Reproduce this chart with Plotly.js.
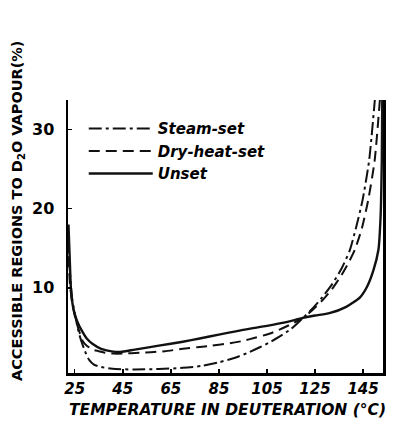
<!DOCTYPE html>
<html><head><meta charset="utf-8">
<script src="https://cdn.plot.ly/plotly-3.0.1.min.js"></script>
<style>html,body{margin:0;padding:0;background:#fff}#chart{width:394px;height:426px}</style>
</head><body><div id="chart"></div>
<script>
// Steam-set (dash-dot)
const steamT = [22.4, 23, 24, 25.5, 27, 29, 31, 33, 36, 42, 50, 60, 70, 78, 85, 92, 97, 102, 106, 110, 115, 120, 124, 128, 132, 136, 139.5, 142, 144.75, 147.5, 149.9];
const steamV = [16, 12, 8.5, 6, 4, 2.2, 0.9, 0.3, 0, -0.25, -0.3, -0.25, -0.1, 0.15, 0.6, 1.2, 1.8, 2.5, 3.1, 3.8, 4.8, 6.2, 7.4, 8.8, 10.4, 12.4, 14.75, 17.5, 21, 26, 33.7];
// Dry-heat-set (dashed)
const dryT = [22.4, 23, 24, 25.4, 27, 28.3, 30, 32.5, 35, 37.5, 41, 45, 52, 58, 62.5, 70, 76, 82, 89.6, 95, 100, 106, 110, 115, 120, 124, 128, 132, 136, 139, 141.5, 144.5, 147.1, 149.8, 152];
const dryV = [14, 10.5, 8, 6, 4.4, 3.3, 2.7, 2.2, 2.0, 1.8, 1.7, 1.7, 1.8, 1.9, 2.0, 2.3, 2.5, 2.7, 3.0, 3.3, 3.7, 4.2, 4.7, 5.4, 6.2, 7.2, 8.4, 9.8, 11.6, 13.2, 14.75, 17.5, 21, 26, 33.7];
// Unset (solid)
const unsetT = [22.4, 23, 23.5, 24.5, 26, 28.3, 30, 32.5, 36, 41, 44, 50, 60, 70, 77, 85, 95, 105, 112, 120, 125, 131, 138, 143.75, 146.6, 149.3, 151.4, 152.3, 152.8, 153];
const unsetV = [18, 13, 9.5, 7.3, 5.8, 4.4, 3.6, 2.9, 2.3, 1.95, 1.9, 2.2, 2.7, 3.2, 3.6, 4.1, 4.7, 5.2, 5.6, 6.2, 6.5, 6.8, 7.6, 8.8, 10.1, 12.2, 14.8, 19, 26, 33.7];

const seriesNames = ['Steam-set', 'Dry-heat-set', 'Unset'];
const xTicks = [25, 45, 65, 85, 105, 125, 145];
const yTicks = [10, 20, 30];

const lineCol = '#111';
const traces = [
  {x: steamT, y: steamV, name: seriesNames[0], mode: 'lines', line: {color: lineCol, width: 2, dash: '13px,4px,3px,4px', shape: 'spline', smoothing: 0.6}},
  {x: dryT, y: dryV, name: seriesNames[1], mode: 'lines', line: {color: lineCol, width: 2, dash: '11px,6px', shape: 'spline', smoothing: 0.6}},
  {x: unsetT, y: unsetV, name: seriesNames[2], mode: 'lines', line: {color: lineCol, width: 2.4, shape: 'spline', smoothing: 0.6}}
];

const fam = 'DejaVu Sans, sans-serif';
const layout = {
  width: 394, height: 426,
  margin: {l: 68, r: 11, t: 100, b: 53},
  paper_bgcolor: '#fff', plot_bgcolor: '#fff',
  showlegend: true,
  legend: {x: 0.05, y: 0.955, xanchor: 'left', yanchor: 'top', bgcolor: 'rgba(0,0,0,0)',
    font: {family: fam, size: 15, color: '#000', weight: 'bold', style: 'italic'},
    itemwidth: 64, tracegroupgap: 0},
  xaxis: {range: [22.2, 153.3], tickvals: xTicks, ticktext: xTicks.map(String),
    showgrid: false, zeroline: false, showline: true, linecolor: '#000', linewidth: 2.5,
    ticks: 'inside', ticklen: 4, tickwidth: 1.5, tickcolor: '#000',
    tickfont: {family: fam, size: 15, color: '#000', weight: 'bold', style: 'italic'}},
  yaxis: {range: [-0.75, 33.7], tickvals: yTicks, ticktext: yTicks.map(String),
    showgrid: false, zeroline: false, showline: true, mirror: true, linecolor: '#000', linewidth: 2.5,
    ticks: 'inside', ticklen: 4, tickwidth: 1.5, tickcolor: '#000', ticklabelstandoff: 8,
    tickfont: {family: fam, size: 16, color: '#000', weight: 'bold'}},
  annotations: [
    {text: 'ACCESSIBLE REGIONS TO D<sub>2</sub>O VAPOUR(%)', textangle: -90, showarrow: false,
      xref: 'paper', yref: 'paper', x: -0.159, y: 0.593, xanchor: 'center', yanchor: 'middle',
      font: {family: fam, size: 14.5, color: '#000', weight: 'bold'}},
    {text: 'TEMPERATURE IN DEUTERATION (°C)', showarrow: false,
      xref: 'paper', yref: 'paper', x: 0.505, y: -0.136, xanchor: 'center', yanchor: 'middle',
      font: {family: fam, size: 15.5, color: '#000', weight: 'bold', style: 'italic'}}
  ]
};
Plotly.newPlot('chart', traces, layout, {displayModeBar: false, staticPlot: true});
</script></body></html>
